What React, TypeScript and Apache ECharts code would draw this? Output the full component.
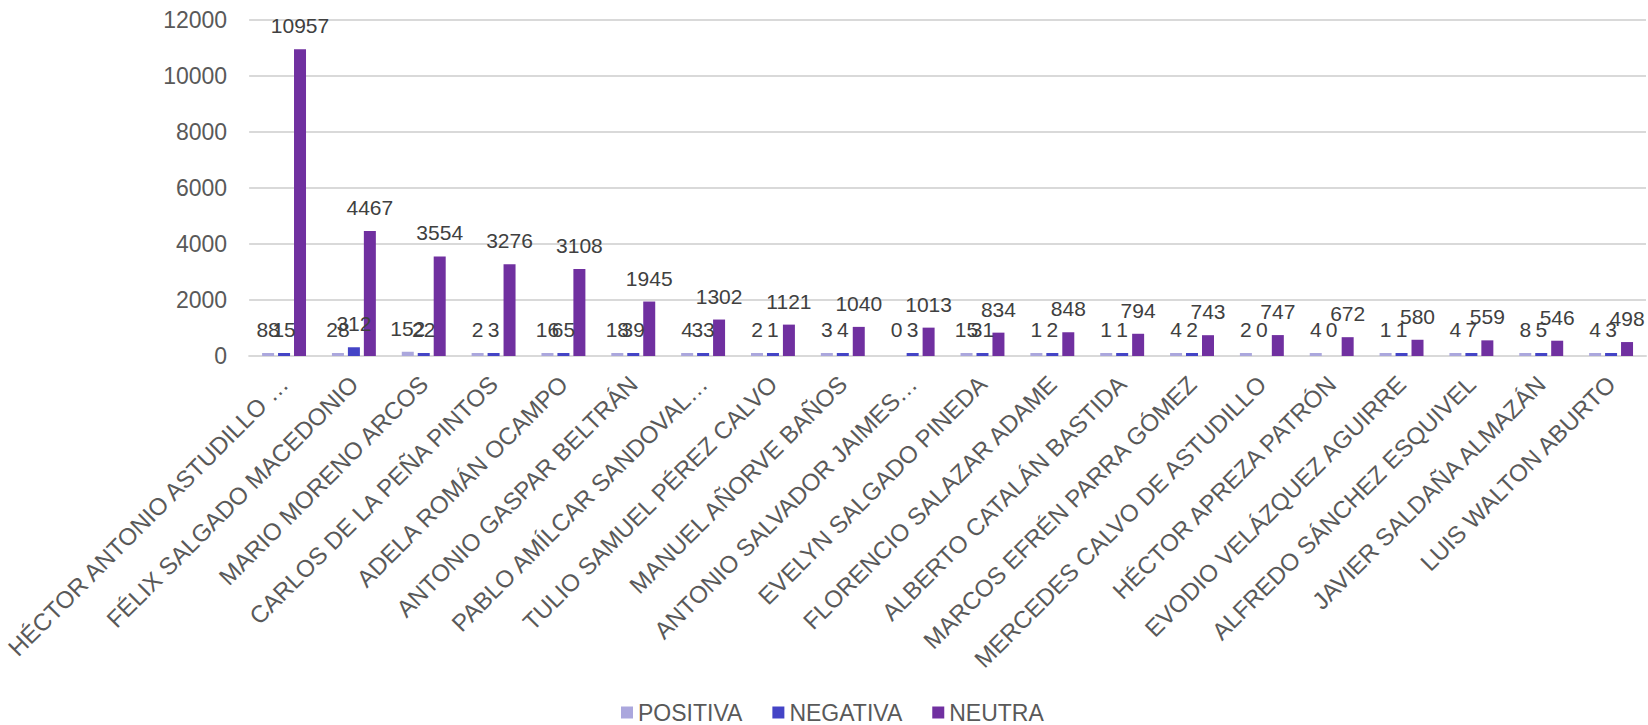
import React, { useEffect, useRef } from "react";
import * as echarts from "echarts";

const categories = [
  "HÉCTOR ANTONIO ASTUDILLO …",
  "FÉLIX SALGADO MACEDONIO",
  "MARIO MORENO ARCOS",
  "CARLOS DE LA PEÑA PINTOS",
  "ADELA ROMÁN OCAMPO",
  "ANTONIO GASPAR BELTRÁN",
  "PABLO AMÍLCAR SANDOVAL…",
  "TULIO SAMUEL PÉREZ CALVO",
  "MANUEL AÑORVE BAÑOS",
  "ANTONIO SALVADOR JAIMES…",
  "EVELYN SALGADO PINEDA",
  "FLORENCIO SALAZAR ADAME",
  "ALBERTO CATALÁN BASTIDA",
  "MARCOS EFRÉN PARRA GÓMEZ",
  "MERCEDES CALVO DE ASTUDILLO",
  "HÉCTOR APREZA PATRÓN",
  "EVODIO VELÁZQUEZ AGUIRRE",
  "ALFREDO SÁNCHEZ ESQUIVEL",
  "JAVIER SALDAÑA ALMAZÁN",
  "LUIS WALTON ABURTO",
];

const positiva = [88, 28, 152, 2, 16, 18, 4, 2, 3, 0, 15, 1, 1, 4, 2, 4, 1, 4, 8, 4];
const negativa = [15, 312, 22, 3, 65, 39, 33, 1, 4, 3, 31, 2, 1, 2, 0, 0, 1, 7, 5, 3];
const neutra = [10957, 4467, 3554, 3276, 3108, 1945, 1302, 1121, 1040, 1013, 834, 848, 794, 743, 747, 672, 580, 559, 546, 498];

const seriesNames = ["POSITIVA", "NEGATIVA", "NEUTRA"];
const seriesColors = ["#ABA7DD", "#4444C6", "#7030A0"];
const yTicks = { min: 0, max: 12000, interval: 2000 };

const FONT = "'Liberation Sans', Arial, sans-serif";

export default function App() {
  const ref = useRef<HTMLDivElement>(null);

  useEffect(() => {
    document.body.style.margin = "0";
    if (!ref.current) return;
    const chart = echarts.init(ref.current, null, { renderer: "svg" });
    const datasets = [positiva, negativa, neutra];
    chart.setOption({
      animation: false,
      textStyle: { fontFamily: FONT },
      grid: { left: 236, right: 2, top: 20, bottom: 369, containLabel: false },
      legend: {
        data: seriesNames,
        left: 621,
        top: 701,
        padding: 0,
        itemWidth: 12,
        itemHeight: 12,
        itemGap: 30,
        icon: "rect",
        textStyle: { fontSize: 23, color: "#595959", fontFamily: FONT },
      },
      xAxis: {
        type: "category",
        data: categories,
        axisLine: { show: true, lineStyle: { color: "#D9D9D9", width: 2 } },
        axisTick: { show: false },
        axisLabel: {
          interval: 0,
          rotate: 45,
          margin: 24,
          fontSize: 24,
          color: "#595959",
          fontFamily: FONT,
        },
      },
      yAxis: {
        type: "value",
        min: yTicks.min,
        max: yTicks.max,
        interval: yTicks.interval,
        axisLine: { show: false },
        axisTick: { show: false },
        splitLine: { lineStyle: { color: "#D9D9D9", width: 2 } },
        axisLabel: {
          fontSize: 23,
          color: "#595959",
          margin: 22,
          fontFamily: FONT,
          formatter: (v: number) => String(v),
        },
      },
      series: datasets.map((d, i) => ({
        name: seriesNames[i],
        type: "bar",
        barWidth: 12,
        barGap: "33%",
        barMinHeight: 3,
        itemStyle: { color: seriesColors[i] },
        data: d.map((v) =>
          v === 0 ? { value: v, itemStyle: { color: "rgba(0,0,0,0)" } } : v
        ),
        label: {
          show: true,
          position: "top",
          distance: 13,
          fontSize: 21,
          color: "#404040",
          fontFamily: FONT,
        },
      })),
    });
    return () => chart.dispose();
  }, []);

  return (
    <div
      ref={ref}
      style={{ position: "absolute", left: 0, top: 0, width: 1648, height: 725 }}
    />
  );
}
